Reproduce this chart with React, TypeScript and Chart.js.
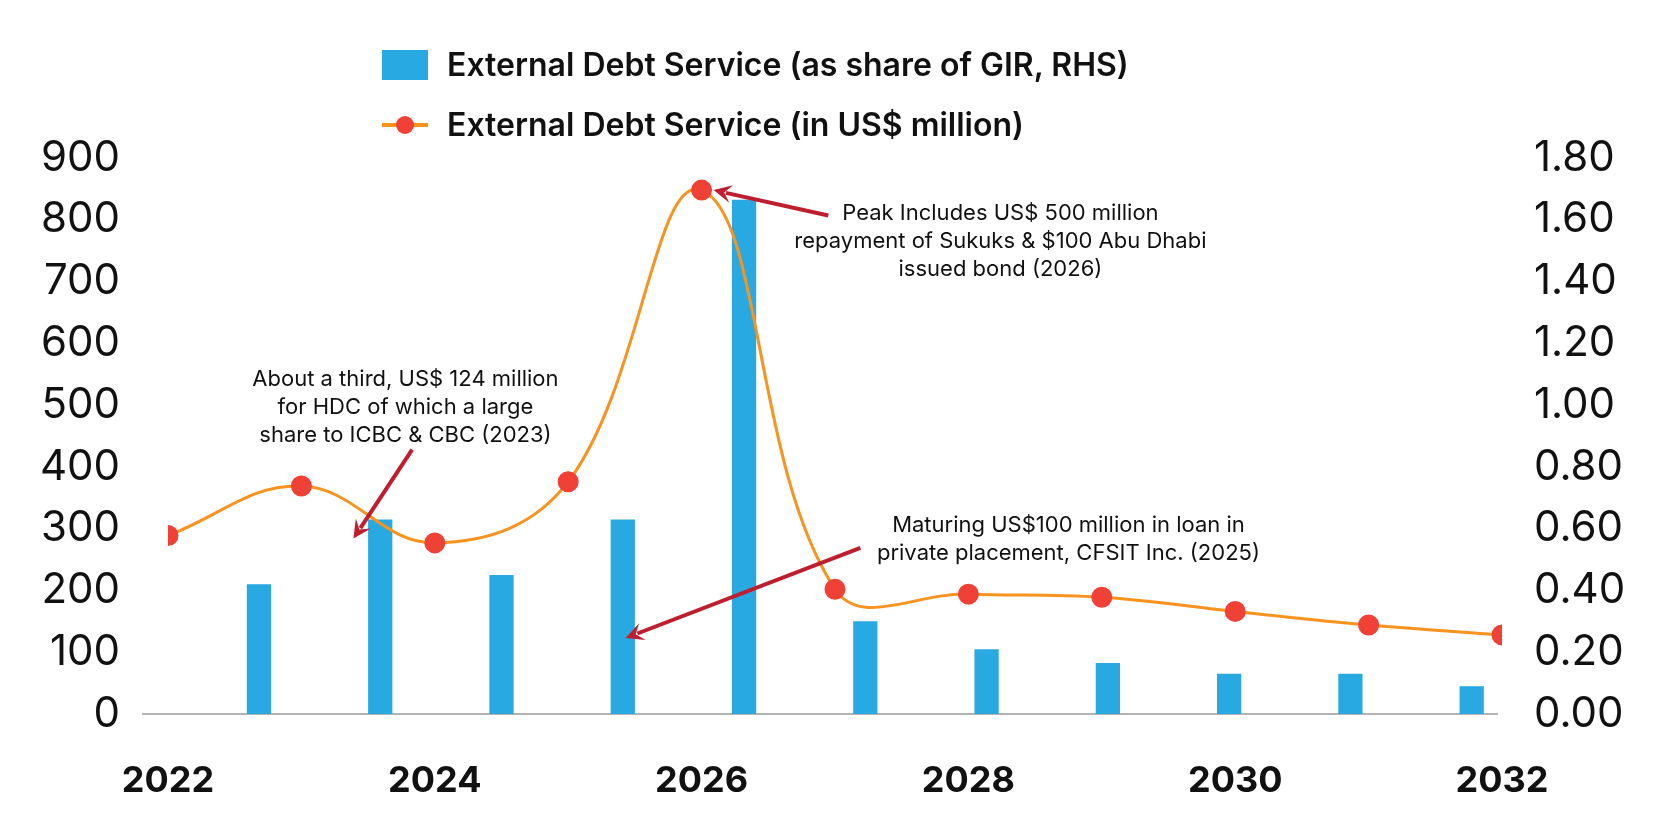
import React, { useEffect, useRef } from "react";
import { Chart, registerables } from "chart.js";
Chart.register(...registerables);

const categories = ["2022","2023","2024","2025","2026","2027","2028","2029","2030","2031","2032"];
const years = [2022,2023,2024,2025,2026,2027,2028,2029,2030,2031,2032];
const shareOfGIR = [0.42,0.63,0.45,0.63,1.665,0.30,0.21,0.165,0.13,0.13,0.09];
const debtServiceUSD = [289,369,277,376,848,202,194,189,166,144,128];
const leftTicks = { min: 0, max: 900, step: 100 };
const rightTicks = { min: 0, max: 1.8, step: 0.2 };

const notes = [
  { x: 2023.78, y: 542, lines: ["About a third, US$ 124 million", "for HDC of which a large", "share to ICBC & CBC (2023)"], from: [2023.83, 428], to: [2023.39, 284] },
  { x: 2028.24, y: 810, lines: ["Peak Includes US$ 500 million", "repayment of Sukuks & $100 Abu Dhabi", "issued bond (2026)"], from: [2026.95, 807], to: [2026.09, 848] },
  { x: 2028.75, y: 306, lines: ["Maturing US$100 million in loan in", "private placement, CFSIT Inc. (2025)"], from: [2027.19, 269], to: [2025.43, 123] },
];

const FONT = "Inter, 'Noto Sans', sans-serif";

const annotPlugin = {
  id: "annot",
  beforeDatasetsDraw(chart: any) {
    const { ctx, chartArea } = chart;
    ctx.save();
    ctx.strokeStyle = "#b3b3b3";
    ctx.lineWidth = 2;
    ctx.beginPath();
    ctx.moveTo(chartArea.left - 26, chartArea.bottom);
    ctx.lineTo(chartArea.right - 4, chartArea.bottom);
    ctx.stroke();
    ctx.restore();
  },
  afterDatasetsDraw(chart: any) {
    const { ctx } = chart;
    const xs = chart.scales.x2, ys = chart.scales.y;
    ctx.save();
    ctx.font = `22px ${FONT}`;
    ctx.textAlign = "center";
    ctx.textBaseline = "middle";
    for (const n of notes) {
      const px = xs.getPixelForValue(n.x);
      const py = ys.getPixelForValue(n.y);
      ctx.fillStyle = "#111";
      n.lines.forEach((l, i) => ctx.fillText(l, px, py + i * 28));
      const x1 = xs.getPixelForValue(n.from[0]), y1 = ys.getPixelForValue(n.from[1]);
      const x2 = xs.getPixelForValue(n.to[0]), y2 = ys.getPixelForValue(n.to[1]);
      const a = Math.atan2(y2 - y1, x2 - x1);
      const hl = 18, hw = 9;
      const bx = x2 - hl * 0.7 * Math.cos(a), by = y2 - hl * 0.7 * Math.sin(a);
      ctx.strokeStyle = "#be1e2d";
      ctx.fillStyle = "#be1e2d";
      ctx.lineWidth = 4;
      ctx.beginPath();
      ctx.moveTo(x1, y1);
      ctx.lineTo(bx, by);
      ctx.stroke();
      ctx.beginPath();
      ctx.moveTo(x2, y2);
      ctx.lineTo(x2 - hl * Math.cos(a) + hw * Math.sin(a), y2 - hl * Math.sin(a) - hw * Math.cos(a));
      ctx.lineTo(x2 - hl * 0.6 * Math.cos(a), y2 - hl * 0.6 * Math.sin(a));
      ctx.lineTo(x2 - hl * Math.cos(a) - hw * Math.sin(a), y2 - hl * Math.sin(a) + hw * Math.cos(a));
      ctx.closePath();
      ctx.fill();
    }
    ctx.restore();
  },
};

export default function App() {
  const ref = useRef<HTMLCanvasElement>(null);
  useEffect(() => {
    const chart = new Chart(ref.current!, {
      type: "bar",
      data: {
        labels: categories,
        datasets: [
          {
            type: "line",
            label: "External Debt Service (in US$ million)",
            data: years.map((y, i) => ({ x: y, y: debtServiceUSD[i] })),
            xAxisID: "x2",
            yAxisID: "y",
            borderColor: "#f7931e",
            borderWidth: 3,
            pointBackgroundColor: "#ef4136",
            pointBorderColor: "#ef4136",
            pointRadius: 9,
            tension: 0.4,
            order: 0,
          } as any,
          {
            type: "bar",
            label: "External Debt Service (as share of GIR, RHS)",
            data: shareOfGIR,
            xAxisID: "x",
            yAxisID: "y1",
            backgroundColor: "#29a9e1",
            barPercentage: 0.4,
            categoryPercentage: 1,
            order: 1,
          },
        ],
      },
      options: {
        animation: false,
        responsive: false,
        layout: { padding: { top: 158, left: 0, right: 0, bottom: 0 } },
        plugins: { legend: { display: false }, tooltip: { enabled: false } },
        scales: {
          x: { type: "category", display: false, offset: true, grid: { display: false } },
          x2: {
            type: "linear", position: "bottom", min: 2022, max: 2032, offset: false,
            grid: { display: false, drawTicks: false, offset: false }, border: { display: false },
            ticks: { stepSize: 2, padding: 46, color: "#111", font: { family: FONT, size: 36, weight: "bold" }, callback: (v: any) => String(v) },
            afterFit: (s: any) => { s.height = 836 - 714; },
          },
          y: {
            position: "left", min: leftTicks.min, max: leftTicks.max,
            grid: { display: false, drawTicks: false }, border: { display: false },
            ticks: { stepSize: leftTicks.step, padding: 48, color: "#111", font: { family: FONT, size: 42 } },
            afterFit: (s: any) => { s.width = 168; },
          },
          y1: {
            position: "right", min: rightTicks.min, max: rightTicks.max,
            grid: { display: false, drawTicks: false }, border: { display: false },
            ticks: { stepSize: rightTicks.step, padding: 32, color: "#111", font: { family: FONT, size: 42 }, callback: (v: any) => Number(v).toFixed(2) },
            afterFit: (s: any) => { s.width = 172; },
          },
        },
      },
      plugins: [annotPlugin],
    } as any);
    return () => chart.destroy();
  }, []);
  const legendText: React.CSSProperties = { position: "absolute", left: 447, font: `600 32px ${FONT}`, color: "#111", lineHeight: "36px", whiteSpace: "nowrap" };
  return (
    <div style={{ position: "fixed", left: 0, top: 0, width: 1674, height: 836, background: "#fff" }}>
      <canvas ref={ref} width={1674} height={836} style={{ position: "absolute", left: 0, top: 0 }} />
      <div style={{ position: "absolute", left: 382, top: 50, width: 46, height: 30, background: "#29a9e1" }} />
      <div style={{ ...legendText, top: 47 }}>External Debt Service (as share of GIR, RHS)</div>
      <div style={{ position: "absolute", left: 382, top: 123, width: 46, height: 4, background: "#f7931e" }} />
      <div style={{ position: "absolute", left: 396, top: 116, width: 18, height: 18, borderRadius: 9, background: "#ef4136" }} />
      <div style={{ ...legendText, top: 107 }}>External Debt Service (in US$ million)</div>
    </div>
  );
}
